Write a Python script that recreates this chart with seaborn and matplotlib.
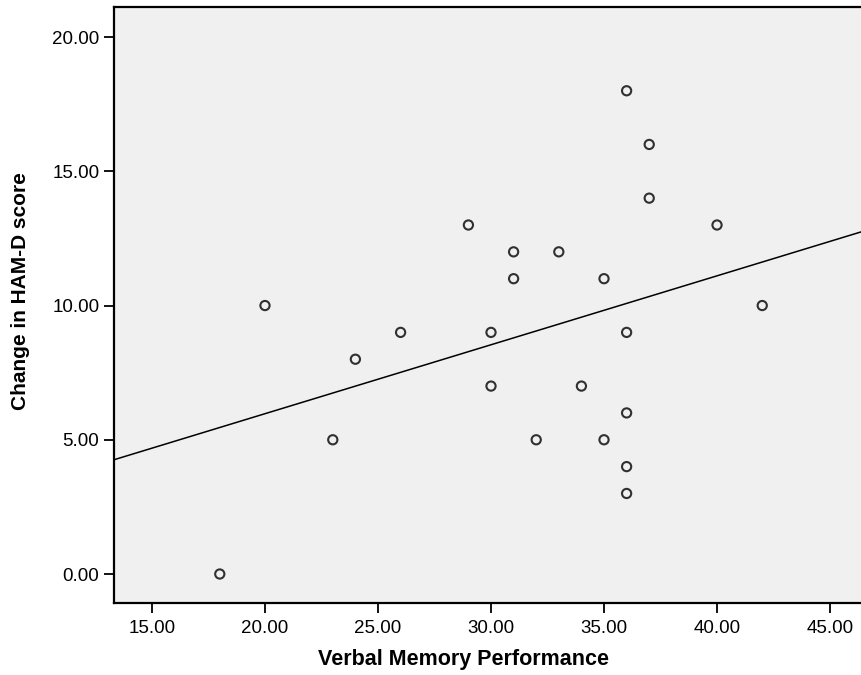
import matplotlib
matplotlib.use("Agg")
import matplotlib.pyplot as plt
import seaborn as sns
import pandas as pd

verbal_memory = [18, 20, 23, 24, 26, 29, 30, 30, 31, 31, 32, 33, 34, 35, 35,
                 36, 36, 36, 36, 36, 37, 37, 40, 42]
hamd_change = [0, 10, 5, 8, 9, 13, 9, 7, 12, 11, 5, 12, 7, 11, 5,
               18, 9, 6, 4, 3, 16, 14, 13, 10]
x_ticks = [15, 20, 25, 30, 35, 40, 45]
y_ticks = [0, 5, 10, 15, 20]

df = pd.DataFrame({"Verbal Memory Performance": verbal_memory,
                   "Change in HAM-D score": hamd_change})

sns.set_style("ticks")
plt.rcParams['font.family'] = ['Liberation Sans', 'DejaVu Sans']
plt.rcParams['text.color'] = 'black'
plt.rcParams['axes.labelcolor'] = 'black'

fig = plt.figure(figsize=(8.61, 6.75), dpi=100)
ax = fig.add_axes([114/861, 1 - 603/675, 1 - 114/861, (603 - 7)/675])
ax.set_facecolor("#f0f0f0")
ax.set_xlim(13.32, 46.37)
ax.set_ylim(-1.08, 21.12)

sns.regplot(data=df, x="Verbal Memory Performance", y="Change in HAM-D score",
            ax=ax, ci=None, truncate=False,
            scatter_kws=dict(s=44, facecolors="none", edgecolors="black",
                             linewidths=1.5, zorder=3),
            line_kws=dict(color="black", linewidth=1.1, zorder=2))

ax.set_xlim(13.32, 46.37)
ax.set_ylim(-1.08, 21.12)
ax.set_xticks(x_ticks)
ax.set_yticks(y_ticks)
ax.set_xticklabels([f"{v:.2f}" for v in x_ticks])
ax.set_yticklabels([f"{v:.2f}" for v in y_ticks])
ax.tick_params(axis="both", direction="out", length=7, width=1.3,
               labelsize=13.5, colors="black", labelcolor="black")
ax.tick_params(axis="y", pad=3.5)
ax.tick_params(axis="x", pad=5)

for side in ["left", "bottom", "top"]:
    ax.spines[side].set_color("black")
    ax.spines[side].set_linewidth(1.6)
    ax.spines[side].set_visible(True)
ax.spines["right"].set_visible(False)

ax.set_xlabel("Verbal Memory Performance", fontsize=15.5, fontweight="bold",
              color="black")
ax.set_ylabel("Change in HAM-D score", fontsize=15, fontweight="bold",
              color="black")
ax.xaxis.set_label_coords(0.4685, -0.077)
ax.yaxis.set_label_coords(-0.112, 0.523)

fig.savefig("out.png", dpi=100)
